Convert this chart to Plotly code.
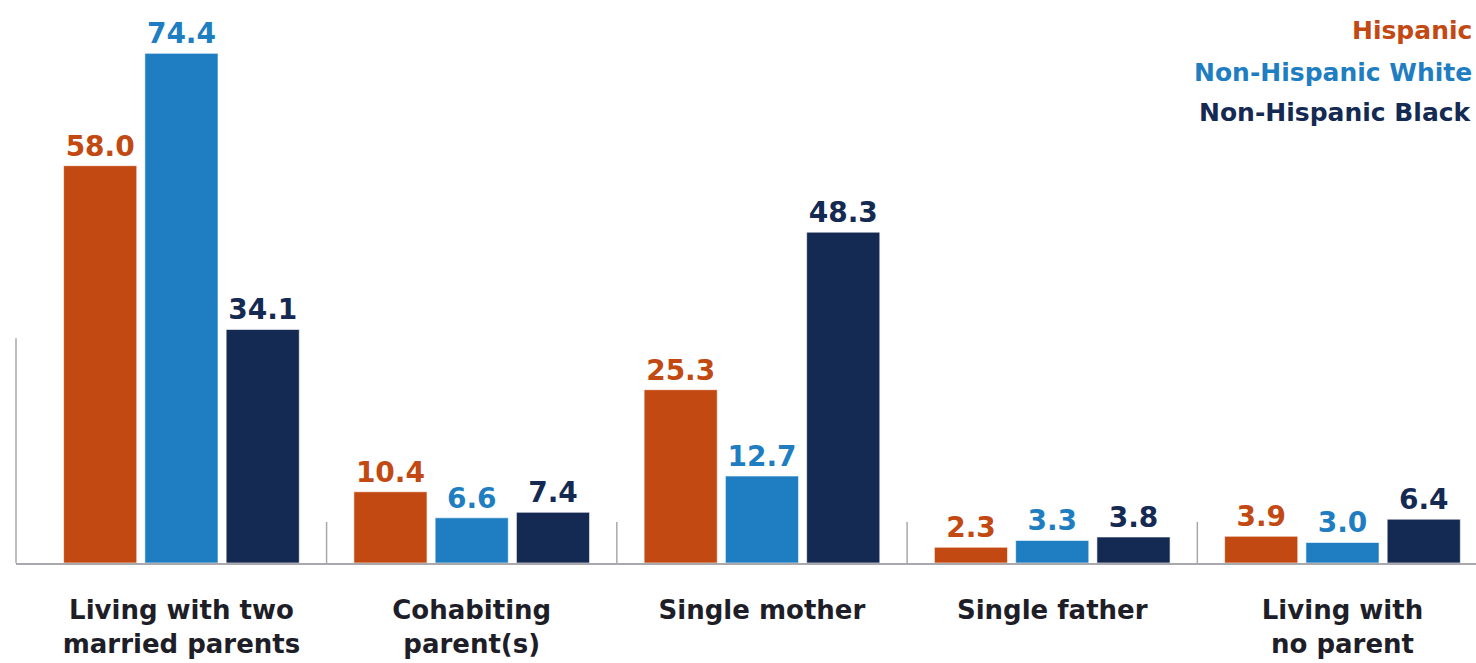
import plotly.graph_objects as go

# Living arrangements of children by race/ethnicity (percent)
categories = [
    "Living with two<br>married parents",
    "Cohabiting<br>parent(s)",
    "Single mother",
    "Single father",
    "Living with<br>no parent",
]
series_names = ["Hispanic", "Non-Hispanic White", "Non-Hispanic Black"]
hispanic = [58.0, 10.4, 25.3, 2.3, 3.9]
nh_white = [74.4, 6.6, 12.7, 3.3, 3.0]
nh_black = [34.1, 7.4, 48.3, 3.8, 6.4]
colors = ["#C24A12", "#1F7EC1", "#152A52"]

FONT = "DejaVu Sans"
AXIS_GRAY = "#A9A9AD"

fig = go.Figure()
for name, vals, col in zip(series_names, [hispanic, nh_white, nh_black], colors):
    fig.add_trace(go.Bar(
        x=categories,
        y=vals,
        name=name,
        marker=dict(color=col, line=dict(color="rgba(255,255,255,0.6)", width=1)),
        text=[f"{v:.1f}" for v in vals],
        textposition="outside",
        cliponaxis=False,
        textfont=dict(family=FONT, size=28, color=col, weight="bold"),
    ))

# separators between category groups
shapes = []
for i in range(len(categories) - 1):
    shapes.append(dict(type="line", xref="x", yref="y domain",
                       x0=i + 0.5, x1=i + 0.5, y0=0, y1=0.075,
                       line=dict(color=AXIS_GRAY, width=1.5)))
# short vertical axis line at the left edge
shapes.append(dict(type="line", xref="paper", yref="y domain",
                   x0=0, x1=0, y0=0, y1=0.41,
                   line=dict(color=AXIS_GRAY, width=1.5)))

# legend drawn as coloured, right-aligned text
legend_shift = [-15, -57, -97]
annotations = []
for name, col, dy in zip(series_names, colors, legend_shift):
    annotations.append(dict(
        text=f"<b>{name}</b>", xref="paper", yref="paper",
        x=1.0, y=1.0, xanchor="right", yanchor="middle",
        xshift=-2, yshift=dy, showarrow=False,
        font=dict(family=FONT, size=25, color=col),
    ))

fig.update_layout(
    width=1476, height=663,
    margin=dict(l=16, r=0, t=15, b=100),
    paper_bgcolor="white", plot_bgcolor="white",
    barmode="group", bargap=0.16, bargroupgap=0.1,
    showlegend=False,
    shapes=shapes,
    annotations=annotations,
    xaxis=dict(
        type="category",
        range=[-0.57, 4.46],
        showline=True, linecolor=AXIS_GRAY, linewidth=1.5,
        ticks="", showgrid=False,
        tickfont=dict(family=FONT, size=26, color="#1E1E28", weight="bold"),
        ticklabelstandoff=23,
    ),
    yaxis=dict(
        range=[0, 80], visible=False, showgrid=False, zeroline=False,
    ),
    font=dict(family=FONT),
)

fig.write_html("out.html")
